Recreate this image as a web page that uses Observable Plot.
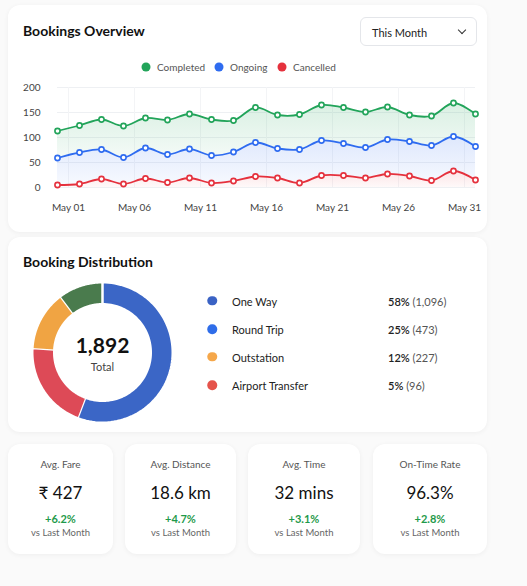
<!DOCTYPE html>
<html><head><meta charset="utf-8">
<script src="https://cdn.jsdelivr.net/npm/d3@7"></script>
<script src="https://cdn.jsdelivr.net/npm/@observablehq/plot@0.6"></script>
<style>
body{margin:0;background:#fafafa;font-family:Lato,"Noto Sans",sans-serif;}
#page{position:relative;width:527px;height:586px;overflow:hidden;}
.card{position:absolute;background:#fff;border-radius:12px;box-shadow:0 1px 5px rgba(0,0,0,0.05);}
.abs{position:absolute;white-space:nowrap;line-height:1;}
.title{font-weight:700;font-size:14px;color:#111;}
.vc{transform:translateY(-50%);}
.cc{transform:translate(-50%,-50%);}
svg.plot{position:absolute;}
</style></head><body><div id="page"></div>
<svg width="0" height="0" style="position:absolute">
<defs>
<linearGradient id="grad0" x1="0" y1="0" x2="0" y2="1"><stop offset="0" stop-color="#22a45a" stop-opacity="0.17"/><stop offset="1" stop-color="#22a45a" stop-opacity="0.05"/></linearGradient>
<linearGradient id="grad1" x1="0" y1="0" x2="0" y2="1"><stop offset="0" stop-color="#2f6cf0" stop-opacity="0.16"/><stop offset="1" stop-color="#2f6cf0" stop-opacity="0.04"/></linearGradient>
<linearGradient id="grad2" x1="0" y1="0" x2="0" y2="1"><stop offset="0" stop-color="#e5313d" stop-opacity="0.13"/><stop offset="1" stop-color="#e5313d" stop-opacity="0.03"/></linearGradient>
</defs></svg>
<script>
// ---- Bookings overview data ----
const seriesNames = ["Completed", "Ongoing", "Cancelled"];
const seriesColors = ["#22a45a", "#2f6cf0", "#e5313d"];
const completed = [113,124,136,123,139,135,147,136,134,160,145,146,165,160,151,161,145,143,169,147];
const ongoing   = [59,70,76,60,79,66,77,64,71,90,78,76,94,88,80,96,92,84,102,82];
const cancelled = [5,7,17,7,18,10,19,9,13,22,19,9,24,24,19,27,23,14,33,15];
const tickAt = [0.5, 3.5, 6.5, 9.5, 12.5, 15.5, 18.5];
const tickLabels = ["May 01","May 06","May 11","May 16","May 21","May 26","May 31"];
const yTicks = [0, 50, 100, 150, 200];
const rangeLabel = "This Month";

// ---- Distribution data ----
const distLabels = ["One Way", "Round Trip", "Outstation", "Airport Transfer"];
const distPct = [58, 25, 12, 5];
const distCount = [1096, 473, 227, 96];
const distColors = ["#3a62c4", "#2f6de9", "#f5a74a", "#e5534b"];
const ringShares = [55.8, 20.2, 13.8, 10.2];
const ringColors = ["#3b66c6", "#dd4a57", "#f0a443", "#4a7b4d"];
const totalBookings = 1892;

// ---- Stats ----
const statTitles = ["Avg. Fare", "Avg. Distance", "Avg. Time", "On-Time Rate"];
const statValues = ["₹ 427", "18.6 km", "32 mins", "96.3%"];
const statChanges = ["+6.2%", "+4.7%", "+3.1%", "+2.8%"];
const statNote = "vs Last Month";

const page = document.getElementById("page");
function el(tag, cls, style, text){const e=document.createElement(tag); if(cls) e.className=cls; Object.assign(e.style, style||{}); if(text!=null) e.textContent=text; page.appendChild(e); return e;}

// cards
el("div","card",{left:"8px",top:"5px",width:"479px",height:"227px"});
el("div","card",{left:"8px",top:"237px",width:"479px",height:"195px"});
const statCards = [[8,113],[125,236],[248,360],[373,487]];
statCards.forEach(([a,b])=>el("div","card",{left:a+"px",top:"444px",width:(b-a)+"px",height:"110px"}));

// header
el("div","abs title vc",{left:"23px",top:"31px"},"Bookings Overview");
const dd = el("div","abs",{left:"360px",top:"17px",width:"117px",height:"29px",border:"1px solid #e4e6ea",borderRadius:"6px",boxSizing:"border-box",background:"#fff"});
const ddt = document.createElement("div"); ddt.className="abs vc"; Object.assign(ddt.style,{left:"11px",top:"14px",fontSize:"11px",color:"#222"}); ddt.textContent=rangeLabel; dd.appendChild(ddt);
const chev = document.createElement("div"); Object.assign(chev.style,{position:"absolute",left:"98px",top:"9px",width:"5px",height:"5px",borderRight:"1.3px solid #333",borderBottom:"1.3px solid #333",transform:"rotate(45deg)"}); dd.appendChild(chev);

// line legend
const legX = [[146,157],[219,230],[282,293]];
seriesNames.forEach((n,k)=>{
  el("div","abs cc",{left:legX[k][0]+"px",top:"67px",width:"9px",height:"9px",borderRadius:"50%",background:seriesColors[k]});
  el("div","abs vc",{left:legX[k][1]+"px",top:"67px",fontSize:"10px",color:"#555"},n);
});

// line chart
const keys = [completed, ongoing, cancelled];
const rows = completed.map((v,i)=>({i, c:v, o:ongoing[i], x:cancelled[i], zero:0}));
const long = seriesNames.flatMap((name,k)=>keys[k].map((v,i)=>({i, series:k, value:v})));
const bandLow = ["o","x","zero"], bandHigh = ["c","o","x"];
const chart = Plot.plot({
  width: 500, height: 150,
  marginLeft: 57, marginRight: 25, marginTop: 12, marginBottom: 38,
  style: {fontFamily: "Lato, sans-serif", fontSize: "10px", color: "#444", background: "transparent", overflow:"visible"},
  x: {domain: [0, completed.length - 1], label: null},
  y: {domain: [0, 200], label: null},
  marks: [
    Plot.gridY(yTicks, {stroke: "#eef0f3", strokeOpacity: 1}),
    Plot.gridX(tickAt, {stroke: "#f3f4f6", strokeOpacity: 1}),
    ...[2,1,0].map(k => Plot.areaY(rows, {x: "i", y1: bandLow[k], y2: bandHigh[k], fill: `url(#grad${k})`, curve: "catmull-rom"})),
    ...[0,1,2].map(k => Plot.lineY(long.filter(d=>d.series===k), {x: "i", y: "value", stroke: seriesColors[k], strokeWidth: 1.8, curve: "catmull-rom"})),
    ...[0,1,2].map(k => Plot.dot(long.filter(d=>d.series===k), {x: "i", y: "value", r: 2.6, fill: "#fff", stroke: seriesColors[k], strokeWidth: 1.6})),
    Plot.axisY(yTicks, {tickSize: 0, tickPadding: 17, fontSize: 10, label: null}),
    Plot.axisX(tickAt, {tickSize: 0, tickPadding: 16, fontSize: 10, label: null, tickFormat: (d, j) => tickLabels[j]})
  ]
});
chart.classList.add("plot"); chart.style.left="0px"; chart.style.top="75px";
page.appendChild(chart);

// distribution
el("div","abs title vc",{left:"23px",top:"262px"},"Booking Distribution");
const inner = 0.687;
const tot = d3.sum(ringShares);
const ringPts = [];
let acc = 0;
ringShares.forEach((s,k)=>{
  const a0 = acc/tot*2*Math.PI, a1 = (acc+s)/tot*2*Math.PI; acc += s;
  const n = 80;
  for (let j=0;j<=n;j++){const a=a0+(a1-a0)*j/n; ringPts.push({seg:k,x:Math.sin(a),y:Math.cos(a),c:ringColors[k]});}
  for (let j=n;j>=0;j--){const a=a0+(a1-a0)*j/n; ringPts.push({seg:k,x:inner*Math.sin(a),y:inner*Math.cos(a),c:ringColors[k]});}
});
const donut = Plot.plot({
  width: 150, height: 150, margin: 0,
  style: {fontFamily: "Lato, sans-serif", background: "transparent", overflow:"visible"},
  x: {domain: [-1, 1], range: [4.75, 145.25], axis: null},
  y: {domain: [-1, 1], range: [145.25, 4.75], axis: null},
  color: {type: "identity"},
  marks: [
    Plot.line(ringPts, {x: "x", y: "y", z: "seg", fill: "c", stroke: "#fff", strokeWidth: 2.5, curve: "linear"}),
    Plot.text([d3.format(",")(totalBookings)], {frameAnchor: "middle", dy: -6, fontSize: 21, fontWeight: 700, fill: "#111"}),
    Plot.text(["Total"], {frameAnchor: "middle", dy: 15, fontSize: 11, fill: "#444"})
  ]
});
donut.classList.add("plot"); donut.style.left="27px"; donut.style.top="277px";
page.appendChild(donut);

const rowY = [300.7, 329, 356.7, 385.3];
distLabels.forEach((n,k)=>{
  el("div","abs cc",{left:"212px",top:rowY[k]+"px",width:"9.5px",height:"9.5px",borderRadius:"50%",background:distColors[k]});
  el("div","abs vc",{left:"232px",top:rowY[k]+"px",fontSize:"11px",color:"#222"},n);
  const p = el("div","abs vc",{left:"388px",top:rowY[k]+"px",fontSize:"11px",color:"#222"});
  p.innerHTML = `<span style="font-weight:600">${distPct[k]}%</span> <span style="color:#555">(${d3.format(",")(distCount[k])})</span>`;
});

// stats
statCards.forEach(([a,b],k)=>{
  const cx = (a+b)/2;
  el("div","abs cc",{left:cx+"px",top:"463.5px",fontSize:"10px",color:"#555"},statTitles[k]);
  el("div","abs cc",{left:cx+"px",top:"491.5px",fontSize:"17px",color:"#111"},statValues[k]);
  el("div","abs cc",{left:cx+"px",top:"517.5px",fontSize:"11px",color:"#1f9a4b",fontWeight:"700"},statChanges[k]);
  el("div","abs cc",{left:cx+"px",top:"533px",fontSize:"9.5px",color:"#666"},statNote);
});
</script></body></html>
